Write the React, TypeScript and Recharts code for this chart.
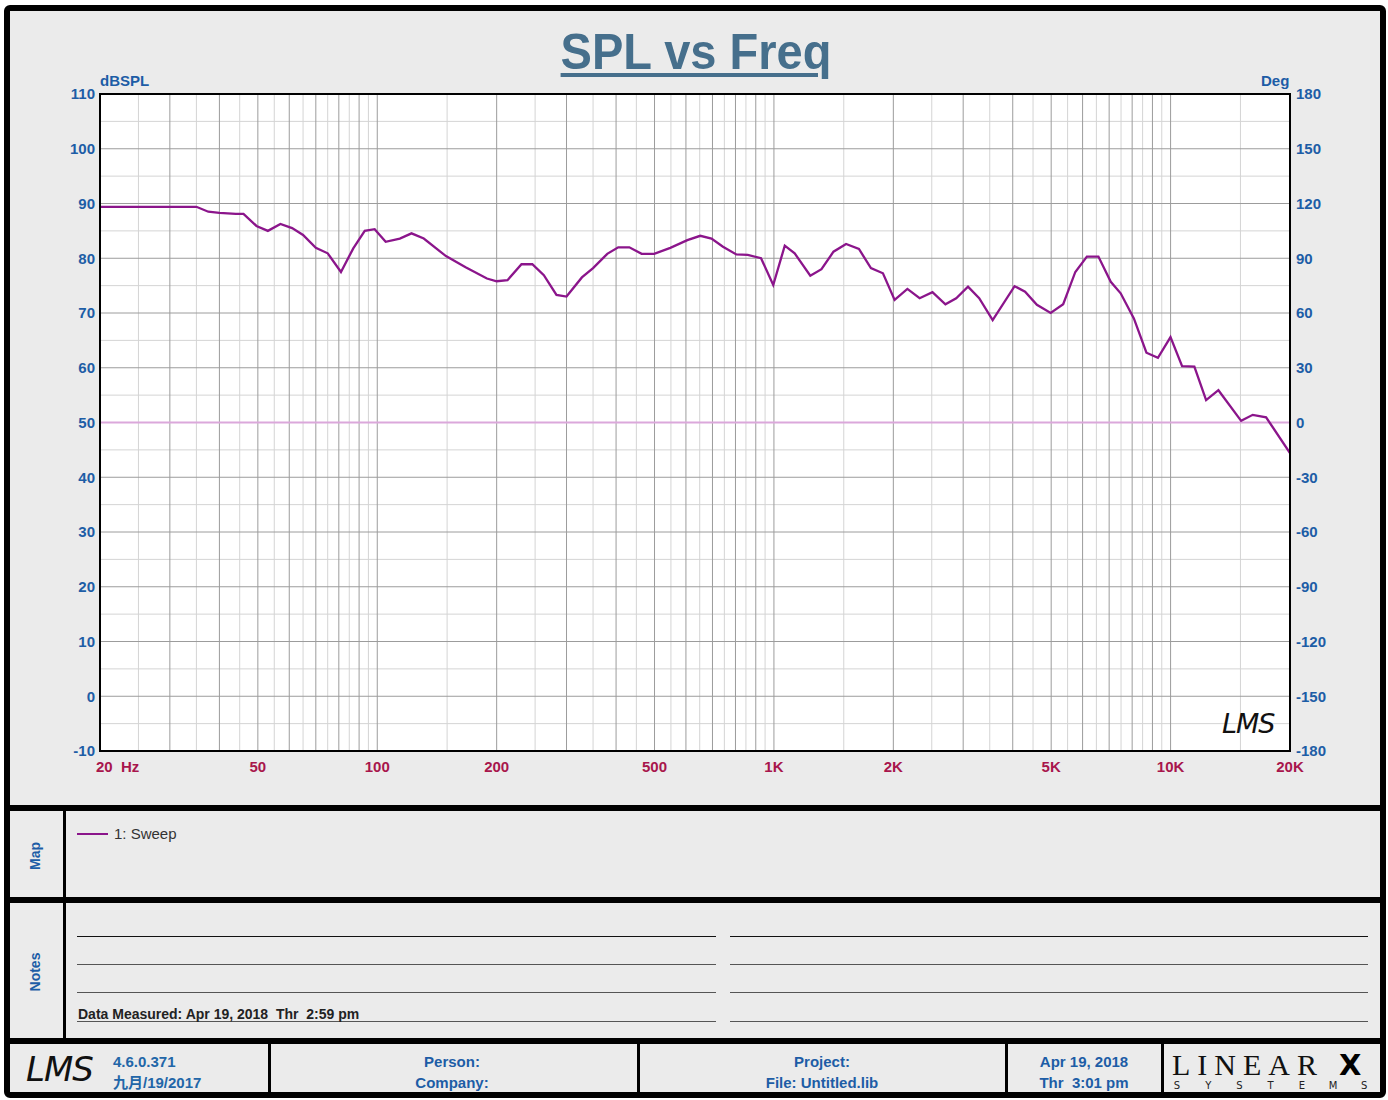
import { CartesianGrid, Line, LineChart, ReferenceLine, XAxis, YAxis } from "recharts";

// SPL sweep (Hz, dBSPL)
const freqs = [
  20, 35, 37.5, 40, 44, 46, 49.6, 53, 57, 61, 65, 70, 75, 81, 87, 93, 98.5, 105, 114, 122, 131, 149, 167, 189,
  200, 213, 231, 246, 263, 283, 300, 328, 350, 380, 405, 432, 464, 499, 548, 605, 652, 696, 744, 804, 859, 928,
  996, 1065, 1128, 1235, 1318, 1413, 1520, 1638, 1756, 1883, 2015, 2170, 2330, 2510, 2706, 2881, 3085, 3292,
  3560, 4043, 4297, 4602, 4985, 5361, 5752, 6152, 6577, 7066, 7484, 8080, 8692, 9291, 9995, 10690, 11480, 12290,
  13200, 15060, 16110, 17410, 20000,
];
const splValues = [
  89.4, 89.4, 88.5, 88.3, 88.1, 88.1, 85.9, 85.0, 86.25, 85.5, 84.25, 81.9, 80.9, 77.5, 81.8, 85.0, 85.3, 83.0,
  83.6, 84.55, 83.6, 80.4, 78.35, 76.3, 75.8, 76.0, 78.9, 78.9, 76.9, 73.3, 73.0, 76.5, 78.2, 80.8, 82.0, 82.0,
  80.8, 80.8, 81.9, 83.3, 84.1, 83.6, 82.1, 80.7, 80.6, 80.0, 75.1, 82.3, 80.9, 76.8, 78.0, 81.2, 82.6, 81.7,
  78.2, 77.25, 72.4, 74.4, 72.7, 73.8, 71.6, 72.7, 74.8, 72.7, 68.7, 74.9, 73.9, 71.5, 70.0, 71.6, 77.5, 80.3,
  80.3, 75.7, 73.6, 69.0, 62.75, 61.8, 65.6, 60.3, 60.2, 54.1, 55.9, 50.3, 51.4, 50.95, 44.4,
];
const phaseLevel = 0;

const freqLabelTicks = [20, 50, 100, 200, 500, 1000, 2000, 5000, 10000, 20000];
const gridMajorX = [
  30, 40, 50, 60, 70, 80, 90, 100, 200, 300, 400, 500, 600, 700, 800, 900, 1000, 2000, 3000, 4000, 5000, 6000,
  7000, 8000, 9000, 10000,
];
const gridMinorX = [
  25, 35, 45, 55, 65, 75, 85, 95, 150, 250, 350, 450, 550, 650, 750, 850, 950, 1500, 2500, 3500, 4500, 5500,
  6500, 7500, 8500, 9500, 15000,
];
const splTicks = [-10, 0, 10, 20, 30, 40, 50, 60, 70, 80, 90, 100, 110];
const splMinor = [-5, 5, 15, 25, 35, 45, 55, 65, 75, 85, 95, 105];
const degTicks = [-180, -150, -120, -90, -60, -30, 0, 30, 60, 90, 120, 150, 180];

const data = freqs.map((f, i) => ({ f, spl: splValues[i] }));

const NARROW = "'Liberation Sans Narrow', 'Arial Narrow', 'Liberation Sans', Arial, sans-serif";
const BLUE = "#1d5da6";
const RED = "#a8164c";
const PANEL = "#ebebeb";
const CURVE = "#8b158b";

function fmtFreq(v: number) {
  return v >= 1000 ? `${v / 1000}K` : `${v}`;
}

function FreqTick({ x, y, payload }: any) {
  const v = payload.value;
  if (v === 20) {
    return (
      <text x={x - 4} y={y} dy={12} fill={RED} fontSize={15} fontWeight="bold" fontFamily={NARROW}>
        <tspan>20</tspan>
        <tspan x={x + 21}>Hz</tspan>
      </text>
    );
  }
  return (
    <text x={x} y={y} dy={12} textAnchor="middle" fill={RED} fontSize={15} fontWeight="bold" fontFamily={NARROW}>
      {fmtFreq(v)}
    </text>
  );
}

function Bar({ left, top, width, height }: { left: number; top: number; width: number; height: number }) {
  return <div style={{ position: "absolute", left, top, width, height, background: "#000" }} />;
}

const textBase: React.CSSProperties = {
  position: "absolute",
  fontFamily: NARROW,
  fontWeight: "bold",
  whiteSpace: "pre",
  lineHeight: 1,
};

export default function App() {
  const noteRows = [936, 964, 992, 1021];
  const systemsLetters = ["S", "Y", "S", "T", "E", "M", "S"];
  return (
    <div style={{ position: "absolute", left: 0, top: 0, width: 1388, height: 1100, background: "#fff" }}>
      <div
        style={{
          position: "absolute",
          left: 4,
          top: 5,
          width: 1382,
          height: 1093,
          border: "6px solid #000",
          borderRadius: 6,
          background: PANEL,
          boxSizing: "border-box",
        }}
      />
      <div style={{ position: "absolute", left: 0, top: 0 }}>
        <LineChart width={1388} height={805} data={data} margin={{ top: 94, right: 38, left: 40, bottom: 24 }}>
          <CartesianGrid fill="#fff" horizontal={false} vertical={false} />
          <XAxis
            dataKey="f"
            type="number"
            scale="log"
            domain={[20, 20000]}
            ticks={freqLabelTicks}
            allowDataOverflow
            axisLine={false}
            tickLine={false}
            tickSize={0}
            tickMargin={9}
            height={30}
            tick={<FreqTick />}
            interval={0}
          />
          <YAxis
            yAxisId="spl"
            domain={[-10, 110]}
            ticks={splTicks}
            allowDataOverflow
            axisLine={false}
            tickLine={false}
            tickSize={0}
            tickMargin={5}
            width={60}
            interval={0}
            tick={{ fill: BLUE, fontSize: 15, fontWeight: "bold", fontFamily: NARROW }}
          />
          <YAxis
            yAxisId="deg"
            orientation="right"
            domain={[-180, 180]}
            ticks={degTicks}
            allowDataOverflow
            axisLine={false}
            tickLine={false}
            tickSize={0}
            tickMargin={6}
            width={60}
            interval={0}
            tick={{ fill: BLUE, fontSize: 15, fontWeight: "bold", fontFamily: NARROW, textAnchor: "start" }}
          />
          {splMinor.map((v) => (
            <ReferenceLine key={`hm${v}`} yAxisId="spl" y={v} stroke="#d4d4d4" strokeWidth={1} />
          ))}
          {gridMinorX.map((v) => (
            <ReferenceLine key={`vm${v}`} yAxisId="spl" x={v} stroke="#d4d4d4" strokeWidth={1} />
          ))}
          {splTicks.map((v) => (
            <ReferenceLine key={`hM${v}`} yAxisId="spl" y={v} stroke="#9c9c9c" strokeWidth={1} />
          ))}
          {gridMajorX.map((v) => (
            <ReferenceLine key={`vM${v}`} yAxisId="spl" x={v} stroke="#9c9c9c" strokeWidth={1} />
          ))}
          <ReferenceLine yAxisId="deg" y={phaseLevel} stroke="#dba8db" strokeWidth={2} />
          <Line
            yAxisId="spl"
            type="linear"
            dataKey="spl"
            stroke={CURVE}
            strokeWidth={2.3}
            dot={false}
            isAnimationActive={false}
          />
        </LineChart>
      </div>

      {/* plot frame */}
      <div
        style={{
          position: "absolute",
          left: 99,
          top: 93,
          width: 1192,
          height: 659,
          border: "2px solid #000",
          boxSizing: "border-box",
          pointerEvents: "none",
        }}
      />

      <div
        style={{
          ...textBase,
          left: 696,
          top: 27,
          transform: "translateX(-50%) scaleX(0.94)",
          fontSize: 50,
          color: "#466f8c",
          textDecoration: "underline",
          textDecorationThickness: 4,
          textUnderlineOffset: 4,
        }}
      >
        SPL vs Freq
      </div>
      <div style={{ ...textBase, left: 100, top: 73, fontSize: 15, color: BLUE }}>dBSPL</div>
      <div style={{ ...textBase, left: 1261, top: 73, fontSize: 15, color: BLUE }}>Deg</div>
      <div
        style={{
          ...textBase,
          left: 1222,
          top: 710,
          fontSize: 27,
          fontWeight: "normal",
          fontStyle: "italic",
          fontFamily: "'DejaVu Sans', sans-serif",
          color: "#111",
          letterSpacing: -1,
        }}
      >
        LMS
      </div>

      {/* section dividers */}
      <Bar left={4} top={805} width={1382} height={6} />
      <Bar left={4} top={897} width={1382} height={6} />
      <Bar left={4} top={1038} width={1382} height={6} />
      <Bar left={63} top={811} width={3} height={227} />
      <Bar left={268} top={1044} width={3} height={52} />
      <Bar left={637} top={1044} width={3} height={52} />
      <Bar left={1005} top={1044} width={3} height={52} />
      <Bar left={1161} top={1044} width={3} height={52} />

      {/* map */}
      <div
        style={{
          ...textBase,
          left: 35,
          top: 856,
          fontSize: 14,
          color: BLUE,
          transform: "translate(-50%, -50%) rotate(-90deg)",
        }}
      >
        Map
      </div>
      <div style={{ position: "absolute", left: 77, top: 833, width: 31, height: 2, background: CURVE }} />
      <div
        style={{
          ...textBase,
          left: 114,
          top: 826,
          fontSize: 15,
          fontWeight: "normal",
          fontFamily: "'Liberation Sans', Arial, sans-serif",
          color: "#333",
        }}
      >
        1: Sweep
      </div>

      {/* notes */}
      <div
        style={{
          ...textBase,
          left: 35,
          top: 972,
          fontSize: 14,
          color: BLUE,
          transform: "translate(-50%, -50%) rotate(-90deg)",
        }}
      >
        Notes
      </div>
      {noteRows.map((y, i) => (
        <div key={`nl${y}`}>
          <div
            style={{ position: "absolute", left: 77, top: y, width: 639, height: 1, background: i === 0 ? "#111" : "#555" }}
          />
          <div
            style={{ position: "absolute", left: 730, top: y, width: 638, height: 1, background: i === 0 ? "#111" : "#555" }}
          />
        </div>
      ))}
      <div style={{ ...textBase, left: 78, top: 1007, fontSize: 14, color: "#222" }}>
        Data Measured: Apr 19, 2018  Thr  2:59 pm
      </div>

      {/* footer */}
      <div
        style={{
          ...textBase,
          left: 26,
          top: 1052,
          fontSize: 34,
          fontWeight: "normal",
          fontStyle: "italic",
          fontFamily: "'DejaVu Sans', sans-serif",
          color: "#111",
          letterSpacing: -1,
        }}
      >
        LMS
      </div>
      <div style={{ ...textBase, left: 113, top: 1054, fontSize: 15, color: "#2266a8" }}>4.6.0.371</div>
      <div
        style={{
          ...textBase,
          left: 113,
          top: 1075,
          fontSize: 15,
          color: "#2266a8",
          fontFamily: `${NARROW}, 'Noto Sans CJK SC'`,
        }}
      >
        九月/19/2017
      </div>
      {[
        { cx: 452, a: "Person:", b: "Company:" },
        { cx: 822, a: "Project:", b: "File: Untitled.lib" },
        { cx: 1084, a: "Apr 19, 2018", b: "Thr  3:01 pm" },
      ].map((c) => (
        <div key={c.a}>
          <div style={{ ...textBase, left: c.cx, top: 1054, fontSize: 15, color: BLUE, transform: "translateX(-50%)" }}>
            {c.a}
          </div>
          <div style={{ ...textBase, left: c.cx, top: 1075, fontSize: 15, color: BLUE, transform: "translateX(-50%)" }}>
            {c.b}
          </div>
        </div>
      ))}
      <div
        style={{
          ...textBase,
          left: 1172,
          top: 1050,
          fontSize: 30,
          fontWeight: "normal",
          fontFamily: "'Liberation Serif', serif",
          color: "#111",
          letterSpacing: 7,
        }}
      >
        LINEAR
      </div>
      <div
        style={{
          ...textBase,
          left: 1339,
          top: 1051,
          fontSize: 29,
          fontWeight: 900,
          fontFamily: "'DejaVu Sans', sans-serif",
          color: "#000",
        }}
      >
        X
      </div>
      {systemsLetters.map((ch, i) => (
        <div
          key={`sys${i}`}
          style={{
            ...textBase,
            left: 1177 + i * 31.2,
            top: 1081,
            fontSize: 10,
            fontWeight: "normal",
            fontFamily: "'DejaVu Sans', sans-serif",
            color: "#222",
            transform: "translateX(-50%)",
          }}
        >
          {ch}
        </div>
      ))}
    </div>
  );
}
